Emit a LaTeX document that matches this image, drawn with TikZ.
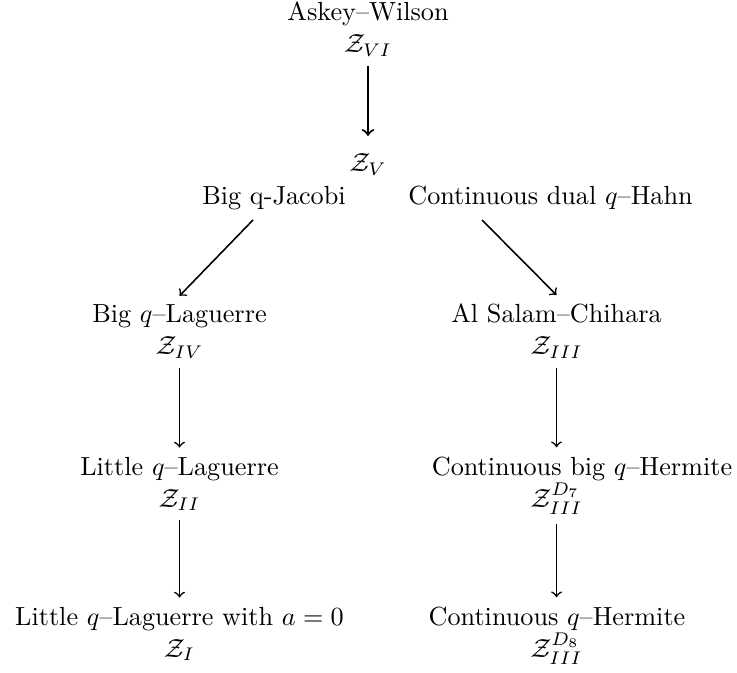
\documentclass[tikz,border=0pt]{standalone}
\begin{document}
\begin{tikzpicture}[x=0.3817pt,y=-0.3817pt,
  lbl/.style={anchor=base,inner sep=3.33pt},
  arr/.style={->,line width=0.6pt}]
\useasboundingbox (0,0) rectangle (737,673);
% top
\node[lbl] (aw)  at (368,21)  {Askey--Wilson};
\node[lbl] (zvi) at (368,53)  {$\mathcal{Z}_{VI}$};
\node[lbl] (zv)  at (368,172) {$\mathcal{Z}_V$};
\node[lbl] (bqj) at (274,205) {Big q-Jacobi};
\node[lbl] (cdh) at (550.5,205) {Continuous dual $q$--Hahn};
% left column
\node[lbl] (bql) at (179.5,323) {Big $q$--Laguerre};
\node[lbl] (ziv) at (179.5,355) {$\mathcal{Z}_{IV}$};
\node[lbl] (lql) at (179.5,475) {Little $q$--Laguerre};
\node[lbl] (zii) at (179.5,507) {$\mathcal{Z}_{II}$};
\node[lbl] (lqa) at (179.5,625) {Little $q$--Laguerre with $a=0$};
\node[lbl] (zi)  at (179.5,657) {$\mathcal{Z}_{I}$};
% right column
\node[lbl] (asc) at (556.5,323) {Al Salam--Chihara};
\node[lbl] (ziii) at (556.5,355) {$\mathcal{Z}_{III}$};
\node[lbl] (cbh) at (582,475) {Continuous big $q$--Hermite};
\node[lbl] (zd7) at (556.5,507) {$\mathcal{Z}_{III}^{D_7}$};
\node[lbl] (cqh) at (557,625) {Continuous $q$--Hermite};
\node[lbl] (zd8) at (556.5,657) {$\mathcal{Z}_{III}^{D_8}$};
% connectors
\coordinate (s1) at (253,220);
\coordinate (s2) at (482,220);
\draw[arr,line width=0.8pt,shorten >=3.4pt] (zvi) -- (zv);
\draw[arr] (s1) -- (bql.north);
\draw[arr] (s2) -- (asc.north);
\draw[arr] (ziv) -- (lql);
\draw[arr] (zii) -- (lqa);
\draw[arr] (ziii) -- (ziii |- cbh.north);
\draw[arr] (zd7) -- (zd7 |- cqh.north);
\end{tikzpicture}
\end{document}
